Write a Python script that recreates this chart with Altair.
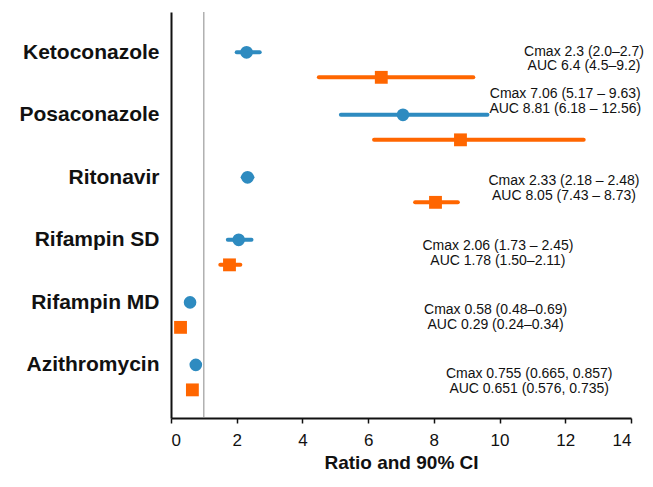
import json
import altair as alt
import pandas as pd

drugs = ["Ketoconazole", "Posaconazole", "Ritonavir", "Rifampin SD", "Rifampin MD", "Azithromycin"]
cmax = [2.3, 7.06, 2.33, 2.06, 0.58, 0.755]
cmax_lo = [2.0, 5.17, 2.18, 1.73, 0.48, 0.665]
cmax_hi = [2.7, 9.63, 2.48, 2.45, 0.69, 0.857]
auc = [6.4, 8.81, 8.05, 1.78, 0.29, 0.651]
auc_lo = [4.5, 6.18, 7.43, 1.50, 0.24, 0.576]
auc_hi = [9.2, 12.56, 8.73, 2.11, 0.34, 0.735]
cmax_text = ["Cmax 2.3 (2.0–2.7)", "Cmax  7.06 (5.17 – 9.63)", "Cmax 2.33 (2.18 – 2.48)",
             "Cmax 2.06 (1.73 – 2.45)", "Cmax 0.58 (0.48–0.69)", "Cmax 0.755 (0.665, 0.857)"]
auc_text = ["AUC 6.4 (4.5–9.2)", "AUC  8.81 (6.18 – 12.56)", "AUC 8.05 (7.43 – 8.73)",
            "AUC 1.78 (1.50–2.11)", "AUC 0.29 (0.24–0.34)", "AUC 0.651 (0.576, 0.735)"]
# annotation anchor (x in ratio units, y in row units)
text_x = [12.57, 12.0, 11.96, 9.95, 9.88, 10.9]
text_y = [-0.01, 0.67, 2.06, 3.10, 4.12, 5.15]
x_ticks = [0, 2, 4, 6, 8, 10, 12, 14]

BLUE = "#2E8BC0"
ORANGE = "#FF6600"
AUC_OFFSET = 0.4
LINE_GAP = 0.235

rows = []
for i, d in enumerate(drugs):
    rows.append(dict(drug=d, measure="Cmax", pos=i, est=cmax[i], lo=cmax_lo[i], hi=cmax_hi[i]))
    rows.append(dict(drug=d, measure="AUC", pos=i + AUC_OFFSET, est=auc[i], lo=auc_lo[i], hi=auc_hi[i]))
df = pd.DataFrame(rows)

trows = []
for i in range(len(drugs)):
    trows.append(dict(tx=text_x[i], ty=text_y[i], label=cmax_text[i]))
    trows.append(dict(tx=text_x[i], ty=text_y[i] + LINE_GAP, label=auc_text[i]))
tdf = pd.DataFrame(trows)

label_expr = json.dumps(drugs) + "[datum.value]"

xscale = alt.Scale(domain=[0, 14], nice=False, zero=False)
yscale = alt.Scale(domain=[-0.645, 5.85], reverse=True, nice=False, zero=False)
cscale = alt.Scale(domain=["Cmax", "AUC"], range=[BLUE, ORANGE])
sscale = alt.Scale(domain=["Cmax", "AUC"], range=["circle", "square"])

xaxis = alt.Axis(values=x_ticks, title="Ratio and 90% CI", grid=False, tickSize=5,
                 tickColor="#111", domainColor="#111", domainWidth=2, tickWidth=1.5,
                 labelFontSize=17, labelColor="#111", labelPadding=9, labelFont="Liberation Sans",
                 titleFontSize=19, titleFontWeight="bold", titleColor="#111", titlePadding=5,
                 titleFont="Liberation Sans")
yaxis = alt.Axis(values=list(range(len(drugs))), labelExpr=label_expr, title=None, grid=False,
                 ticks=False, domainColor="#111", domainWidth=2, labelFontSize=21,
                 labelFontWeight="bold", labelColor="#111", labelPadding=12,
                 labelFont="Liberation Sans", labelOverlap=False)

base = alt.Chart(df)

ref = alt.Chart(pd.DataFrame({"v": [1]})).mark_rule(color="#888", strokeWidth=1).encode(
    x=alt.X("v:Q", scale=xscale, axis=xaxis)
)

bars = base.mark_rule(strokeWidth=4, strokeCap="round").encode(
    x=alt.X("lo:Q", scale=xscale, axis=xaxis),
    x2="hi:Q",
    y=alt.Y("pos:Q", scale=yscale, axis=yaxis),
    color=alt.Color("measure:N", scale=cscale, legend=None),
)

pts = base.mark_point(filled=True, opacity=1).encode(
    x=alt.X("est:Q", scale=xscale, axis=xaxis),
    y=alt.Y("pos:Q", scale=yscale, axis=yaxis),
    color=alt.Color("measure:N", scale=cscale, legend=None),
    shape=alt.Shape("measure:N", scale=sscale, legend=None),
    size=alt.Size("measure:N", scale=alt.Scale(domain=["Cmax", "AUC"], range=[160, 165]), legend=None),
)

txt = alt.Chart(tdf).mark_text(fontSize=14, font="Liberation Sans", color="#111", align="center",
                               baseline="middle").encode(
    x=alt.X("tx:Q", scale=xscale, axis=xaxis),
    y=alt.Y("ty:Q", scale=yscale, axis=yaxis),
    text="label:N",
)

chart = alt.layer(ref, bars, pts, txt).properties(
    width=460, height=406,
    autosize=alt.AutoSizeParams(type="none"),
    padding={"left": 163, "top": 4, "right": 14, "bottom": 56},
).configure(background="white").configure_view(strokeWidth=0)

chart.save("out.html", embed_options={"renderer": "svg", "actions": False})
